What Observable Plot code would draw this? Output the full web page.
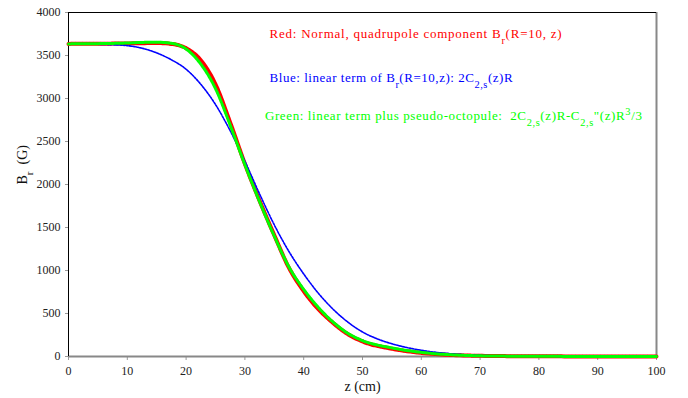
<!DOCTYPE html>
<html>
<head>
<meta charset="utf-8">
<script src="https://cdn.jsdelivr.net/npm/d3@7"></script>
<script src="https://cdn.jsdelivr.net/npm/@observablehq/plot@0.6"></script>
<style>
  html, body { margin: 0; padding: 0; background: #fff; }
  text, tspan { font-family: 'Liberation Serif', 'Times New Roman', 'DejaVu Serif', serif !important; }
</style>
</head>
<body>
<div id="chart"></div>
<script>
// z positions (cm) and B_r values (G)
const zRed   = [0, 5, 10, 12.5, 15, 17.5, 20, 22.5, 25, 27.5, 30, 32.5, 35, 37.5, 40, 42.5, 45, 47.5, 50, 55, 60, 65, 70, 75, 80, 90, 100];
const bRed   = [3635, 3637, 3640, 3643, 3645, 3635, 3585, 3445, 3165, 2720, 2240, 1810, 1410, 1030, 760, 550, 390, 260, 175, 90, 42, 18, 8, 4, 2, 1, 0];

const zGreen = [0, 5, 10, 12.5, 15, 17.5, 20, 22.5, 25, 27.5, 30, 32.5, 35, 37.5, 40, 42.5, 45, 47.5, 50, 55, 60, 65, 70, 75, 80, 90, 100];
const bGreen = [3635, 3638, 3645, 3652, 3655, 3642, 3575, 3400, 3115, 2690, 2230, 1800, 1400, 1040, 780, 570, 400, 270, 185, 100, 48, 20, 8, 4, 2, 1, 0];

const zBlue  = [0, 5, 7.5, 10, 12.5, 15, 17.5, 20, 22.5, 25, 27.5, 30, 32.5, 35, 37.5, 40, 42.5, 45, 47.5, 50, 52.5, 55, 60, 65, 70, 75, 80, 90, 100];
const bBlue  = [3633, 3630, 3625, 3615, 3585, 3530, 3450, 3340, 3165, 2930, 2625, 2270, 1890, 1530, 1220, 960, 735, 550, 400, 285, 205, 148, 72, 32, 13, 6, 3, 1, 0];

const xTicks = [0, 10, 20, 30, 40, 50, 60, 70, 80, 90, 100];
const yTicks = [0, 500, 1000, 1500, 2000, 2500, 3000, 3500, 4000];

const legendLabels = [
  "Red: Normal, quadrupole component B_{r}(R=10, z)",
  "Blue: linear term of B_{r}(R=10,z): 2C_{2,s}(z)R",
  "Green: linear term plus pseudo-octopule:  2C_{2,s}(z)R-C_{2,s}\"(z)R^{3}/3"
];
const legendColors = ["#ff0000", "#0000ff", "#00ff00"];
const legendX = [34.2, 34.2, 33.4];
const legendY = [3755, 3240, 2800];

const xTitle = "z (cm)";
const yTitle = "B_{r}  (G)";

// styling: rendered widths of the three legend lines, as in the reference
const LEGEND_WIDTHS = [292, 243, 377];
const FONT = "Liberation Serif, Times New Roman, DejaVu Serif, serif";

const toRows = (zs, bs) => zs.map((z, i) => ({z, b: bs[i]}));
const red = toRows(zRed, bRed);
const green = toRows(zGreen, bGreen);
const blue = toRows(zBlue, bBlue);
const legend = legendLabels.map((t, i) => ({t, c: legendColors[i], x: legendX[i], y: legendY[i]}));

const chart = Plot.plot({
  width: 688,
  height: 398,
  marginLeft: 68,
  marginRight: 32,
  marginTop: 12,
  marginBottom: 42,
  style: "background: #fff; font-family: 'Liberation Serif', 'Times New Roman', serif;",
  x: {domain: [0, 100]},
  y: {domain: [0, 4000]},
  marks: [
    Plot.axisX({ticks: xTicks, tickFormat: "d", tickSize: 4, stroke: "#999", tickPadding: 6, fontSize: 12, color: "#222", label: null}),
    Plot.axisY({ticks: yTicks, tickFormat: "d", tickSize: 3, stroke: "#999", tickPadding: 5, fontSize: 12, color: "#222", label: null}),
    Plot.ruleY([0], {stroke: "#888", strokeWidth: 2}),
    Plot.ruleX([100], {stroke: "#888", strokeWidth: 2}),
    Plot.ruleY([4000], {stroke: "#000", strokeWidth: 1}),
    Plot.ruleX([0], {stroke: "#000", strokeWidth: 1}),
    Plot.line(red, {x: "z", y: "b", stroke: "#ff0000", strokeWidth: 4, curve: "monotone-x", strokeDasharray: "3,0.6"}),
    Plot.line(blue, {x: "z", y: "b", stroke: "#0000ff", strokeWidth: 1.6, curve: "monotone-x", strokeDasharray: "2,1.2"}),
    Plot.line(green, {x: "z", y: "b", stroke: "#00ff00", strokeWidth: 3, curve: "monotone-x", strokeDasharray: "2.5,0.8"}),
    Plot.text(legend, {x: "x", y: "y", text: "t", fill: "c", textAnchor: "start", fontSize: 13}),
    Plot.text([xTitle], {frameAnchor: "bottom", dy: 34, fontSize: 14, fill: "#111"}),
    Plot.text([yTitle], {frameAnchor: "left", dx: -46, rotate: -90, fontSize: 14, fill: "#111"})
  ]
});

// render simple sub/superscript markup as tspans
d3.select(chart).selectAll("text").each(function() {
  const el = d3.select(this);
  const s = el.text();
  if (!/[_^]\{/.test(s)) return;
  el.selectAll("*").remove();
  el.text(null);
  const parts = s.split(/(_\{[^}]*\}|\^\{[^}]*\})/);
  parts.forEach(p => {
    if (!p) return;
    if (p.startsWith("_{")) {
      el.append("tspan").attr("baseline-shift", "sub").attr("font-size", "80%").text(p.slice(2, -1));
    } else if (p.startsWith("^{")) {
      el.append("tspan").attr("baseline-shift", "super").attr("font-size", "80%").text(p.slice(2, -1));
    } else {
      el.append("tspan").text(p);
    }
  });
  const idx = legendLabels.indexOf(s);
  if (idx >= 0) {
    el.attr("textLength", LEGEND_WIDTHS[idx]).attr("lengthAdjust", "spacing");
  }
});

d3.select(chart).attr("font-family", FONT);
d3.select(chart).selectAll("g").attr("font-family", FONT);
d3.select(chart).selectAll("text, tspan").attr("font-family", FONT);

document.getElementById("chart").appendChild(chart);
</script>
</body>
</html>
